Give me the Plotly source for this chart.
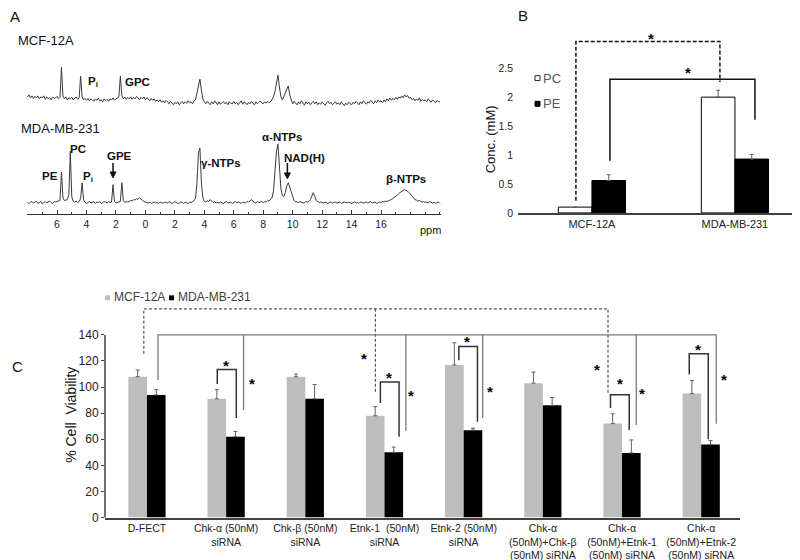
import numpy as np
import plotly.graph_objects as go

W, H = 800, 560
FONT = "Liberation Sans, Arial, sans-serif"

# ---------------- Panel A : 31P NMR spectra ----------------
ppm_start, ppm_step = 8.0, 0.1
mda_intensity = (
    [0, -1, 0.5, 1, -0.5, 0, 1.5, -1, 0, 1]
    + [-1.5, 0, 1, -0.5, 0.5, 1.5, 0, -1, 1, 0.5]
    + [1, 1.5, 2, 31, 5, 2, 2.5, 3, 8, 52]
    + [6, 1, 0.5, 1.5, 0, 1, 4, 20, 3, 0]
    + [-1, 0.5, 1, -0.5, 0, 1, -1, 0.5, 0, 1]
    + [-1, 0, 1, 0.5, -0.5, 1, 0, 0.5, 18, 1]
    + [-0.5, 0, 0.5, 1, 20, 2, 0, 1, 0.5, 1.5]
    + [2, 1.5, 3, 2.5, 4, 3, 5, 3.5, 2, 1]
    + [0.5, 0, -0.5, 0.5, -1, 0, 0.5, -0.5, 0, -1]
    + [0.5, 0, -1, 0.5, 0, -0.5, 1, 0, -1, 0]
    + [1, 0, -1, -0.5, 0.5, 0, -1, 0.5, 0, -1]
    + [0.5, 0, 1, 2, 4, 20, 50, 55, 20, 5]
    + [1, 0.5, 2, 1, 3, 1.5, 0, 1, -0.5, 0]
    + [-0.5, 0.5, 0, -1, 0.5, 1, -0.5, 0, 0.5, -1]
    + [0, 1, -0.5, 0.5, 0, -1, 0.5, 0, -0.5, 1]
    + [0.5, 1.5, 3, 1, 0, -0.5, 1, 0, 0.5, 1]
    + [0, 1, 0.5, 2, 1.5, 3, 5, 12, 30, 52]
    + [59, 40, 14, 7, 6, 10, 17, 20, 14, 11]
    + [6, 2, 1, 0.5, 0, 1, 0.5, -0.5, 0, 1]
    + [0.5, 1, 3, 7, 10, 6, 2, 1, 0, 0.5]
    + [0, -0.5, 0.5, 0, -1, 0, 0.5, -0.5, 0, 0.5]
    + [-0.5, 0, 0.5, -1, 0, 0.5, 0, -0.5, 0.5, 0]
    + [-1, 0, 0.5, -0.5, 0, -1, 0.5, 0, -0.5, 0]
    + [0.5, -0.5, 0, 1, -0.5, 0, 0.5, -1, 0, 0.5]
    + [0, 1, 0.5, 1.5, 1, 2, 2.5, 3, 4, 5]
    + [6, 7.5, 9, 10.5, 12, 12.5, 13, 12.5, 11.5, 10]
    + [8, 6, 4.5, 3, 2.5, 1.5, 2, 1, 0.5, 1]
    + [0, 0.5, -0.5, 1, 0, -0.5, 0.5, -1, 0, 0.5]
    + [-1]
)
mcf_intensity = (
    [2, 4, 1, 3, 0.5, 2.5, 1, 3, 0, 2]
    + [1, 3, -0.5, 2, 0, 1.5, -1, 2, 0.5, 1]
    + [2.5, 0, 1.5, 32, 3, 0, 2, -1, 1, 0]
    + [1.5, -1, 0.5, 2, -0.5, 1, 23, 2, -1, 0.5]
    + [-1.5, 0.5, -2, 0, -1, -2.5, 0, -1.5, 0.5, -2]
    + [-1, -3, 0, -2, -0.5, -2.5, 0, -1, 1, -1.5]
    + [0, 1, 2, 23, 3, 0, 2, -0.5, 1.5, 0]
    + [2, -0.5, 1.5, 0, 2.5, 1, -1, 1.5, 0, 2]
    + [-1, 1, 0, -2, 0.5, -1.5, 0, -2.5, -1, -3]
    + [-1, -3.5, -2, -4, -1.5, -3, -5, -2.5, -4, -6]
    + [-3.5, -5, -3, -6, -4, -2.5, -5, -3, -4.5, -2]
    + [-4, -3, -5, -2, -1, 6, 16, 20, 9, 0]
    + [-3, -5, -2.5, -4, -6, -3, -5, -2, -4.5, -6]
    + [-3, -5.5, -4, -2.5, -5, -3.5, -6, -3, -4.5, -5]
    + [-2.5, -5, -3.5, -6, -4, -2, -5.5, -3, -4, -6]
    + [-3.5, -5, -2.5, -4.5, -6, -3, -5, -3.5, -2, -4]
    + [-5, -3, -4.5, -2.5, -4, -3, -1, 2, 8, 17]
    + [24, 12, 2, -1, 2, 6, 10, 13, 4, -2]
    + [-5, -2.5, -4, -6, -3, -5, -2, -4.5, -6.5, -3]
    + [-5, -3.5, -6, -4, -2.5, -5, -3, -6, -4, -5.5]
    + [-3, -5, -6.5, -4, -2.5, -5, -3.5, -6, -4.5, -3]
    + [-5.5, -4, -6, -3, -5, -7, -4.5, -6, -3.5, -5]
    + [-6, -3.5, -5, -2.5, -4.5, -6, -3, -5, -2, -4]
    + [-5.5, -3, -4, -1.5, -3.5, -5, -2, -4, -1, -3]
    + [-2, -4, -1, -3, 0, -2, 1, -1.5, 0.5, -1]
    + [1.5, -0.5, 2, 0.5, 3, 1, 4, 2, 3.5, 0.5]
    + [1.5, -1, 0.5, -2, 0, -1.5, 1, -2.5, -0.5, -2]
    + [-1, -3, 0, -2, -3.5, -1, -2.5, -4, -1.5, -3]
    + [-3]
)
ppm_tickvals = [6, 4, 2, 0, -2, -4, -6, -8, -10, -12, -14, -16]
ppm_ticktext = ["6", "4", "2", "0", "2", "4", "6", "8", "10", "12", "14", "16"]
# arrows marking GPE and NAD(H) peaks: (ppm, head intensity, tail intensity)
a_arrows = [(2.2, 25, 40), (-9.64, 24, 40)]

# ---------------- Panel B : concentrations ----------------
b_cells = ["MCF-12A", "MDA-MB-231"]
b_pc = [0.10, 2.00]
b_pc_err = [0.0, 0.12]
b_pe = [0.56, 0.93]
b_pe_err = [0.10, 0.08]
b_yticks = [0, 0.5, 1, 1.5, 2, 2.5]
b_yticktext = ["0", "0.5", "1", "1.5", "2", "2.5"]

# ---------------- Panel C : viability ----------------
c_groups = [
    "D-FECT",
    "Chk-α (50nM)<br>siRNA",
    "Chk-β (50nM)<br>siRNA",
    "Etnk-1\u00a0 (50nM)<br>siRNA",
    "Etnk-2 (50nM)<br>siRNA",
    "Chk-α<br>(50nM)+Chk-β<br>(50nM) siRNA",
    "Chk-α<br>(50nM)+Etnk-1<br>(50nM) siRNA",
    "Chk-α<br>(50nM)+Etnk-2<br>(50nM) siRNA",
]
c_mcf = [108, 91, 108, 78, 117, 103, 72, 95]
c_mcf_err = [5, 7, 2, 7, 17, 8.5, 7.5, 10]
c_mda = [94, 62, 91, 50, 67, 86, 49.5, 56]
c_mda_err = [4, 4, 11, 4, 1.5, 6, 10, 3]
c_yticks = [0, 20, 40, 60, 80, 100, 120, 140]

# significance brackets (data coordinates)
b_brackets = [
    dict(pts=[(-0.112, 0.21), (-0.112, 2.96), (0.895, 2.96), (0.895, 2.26)], dash="4px,2px", star=(0.41, 3.06)),
    dict(pts=[(0.126, 0.90), (0.126, 2.31), (1.14, 2.31), (1.14, 1.61)], dash="solid", star=(0.67, 2.47)),
]
c_dashed = [
    [(-0.04, 125.6), (-0.04, 160), (5.823, 160), (5.823, 95.4)],
    [(2.885, 160), (2.885, 94.8)],
]
c_solid = [
    [(0.14, 105.4), (0.14, 140), (7.19, 140), (7.19, 71.9)],
    [(1.22, 140), (1.22, 82.3)],
    [(3.27, 140), (3.27, 66.4)],
    [(4.24, 140), (4.24, 76.4)],
    [(6.18, 140), (6.18, 70.9)],
]
c_small = [
    [(0.888, 102.4), (0.888, 113.5), (1.128, 113.5), (1.128, 76.4)],
    [(2.948, 87.8), (2.948, 103.9), (3.184, 103.9), (3.184, 62)],
    [(3.939, 120.6), (3.939, 131.1), (4.174, 131.1), (4.174, 73.4)],
    [(5.854, 84), (5.854, 94.1), (6.091, 94.1), (6.091, 67.1)],
    [(6.849, 109.7), (6.849, 125.6), (7.089, 125.6), (7.089, 60)],
]
c_stars = [(1.002, 118.6), (3.058, 110), (4.047, 137), (5.973, 105), (6.962, 131.4),
           (1.33, 105.4), (2.738, 123.9), (3.332, 96.1), (4.33, 99.1),
           (5.69, 115.6), (6.255, 97.1), (7.287, 108)]


def px(x):
    return x / W


def py(y):
    return 1 - y / H


def path_of(pts):
    return "M " + " L ".join(f"{x},{y}" for x, y in pts)


ppm = np.round(ppm_start - ppm_step * np.arange(len(mda_intensity)), 2)
ppm2 = np.round(ppm_start - ppm_step * np.arange(len(mcf_intensity)), 2)

fig = go.Figure()
fig.add_trace(go.Scatter(x=ppm2, y=mcf_intensity, mode="lines", xaxis="x", yaxis="y2",
                         line=dict(color="#3a3a3a", width=1), showlegend=False, hoverinfo="skip"))
fig.add_trace(go.Scatter(x=ppm, y=mda_intensity, mode="lines", xaxis="x", yaxis="y",
                         line=dict(color="#3a3a3a", width=1), showlegend=False, hoverinfo="skip"))

ebar = dict(type="data", symmetric=False, color="#606060", thickness=1, width=2)
fig.add_trace(go.Bar(x=[0, 1], y=b_pc, xaxis="x2", yaxis="y3", marker=dict(color="white", line=dict(color="black", width=1)),
                     error_y=dict(ebar, array=b_pc_err, arrayminus=[0] * 2), showlegend=False))
fig.add_trace(go.Bar(x=[0, 1], y=b_pe, xaxis="x2", yaxis="y3", marker=dict(color="black", line=dict(color="black", width=1)),
                     error_y=dict(ebar, array=b_pe_err, arrayminus=[0] * 2), showlegend=False))

cx = list(range(len(c_groups)))
fig.add_trace(go.Bar(x=cx, y=c_mcf, xaxis="x3", yaxis="y4", marker=dict(color="#bdbdbd", line=dict(width=0)),
                     error_y=dict(ebar, array=c_mcf_err, arrayminus=[0] * 8), showlegend=False))
fig.add_trace(go.Bar(x=cx, y=c_mda, xaxis="x3", yaxis="y4", marker=dict(color="black", line=dict(width=0)),
                     error_y=dict(ebar, array=c_mda_err, arrayminus=[0] * 8), showlegend=False))

shapes = []
# arrows in panel A
for ax_, head, tail in a_arrows:
    shapes.append(dict(type="line", xref="x", yref="y", x0=ax_, x1=ax_, y0=tail, y1=head + 4,
                       line=dict(color="#111", width=1.5)))
    shapes.append(dict(type="path", xref="x", yref="y",
                       path=f"M {ax_ - 0.2},{head + 6} L {ax_ + 0.2},{head + 6} L {ax_},{head} Z",
                       fillcolor="#111", line=dict(color="#111", width=1)))
for br in b_brackets:
    shapes.append(dict(type="path", path=path_of(br["pts"]), xref="x2", yref="y3",
                       line=dict(color="#111", width=1.5, dash=br["dash"])))
for pts in c_dashed:
    shapes.append(dict(type="path", path=path_of(pts), xref="x3", yref="y4",
                       line=dict(color="#555", width=1.2, dash="3px,2px")))
for pts in c_solid:
    shapes.append(dict(type="path", path=path_of(pts), xref="x3", yref="y4",
                       line=dict(color="#7a7a7a", width=1.3)))
for pts in c_small:
    shapes.append(dict(type="path", path=path_of(pts), xref="x3", yref="y4",
                       line=dict(color="#333", width=1.5)))

# C y-axis line (only up to 140)
c_dom = [py(516), py(298)]
c_rng = [0, 165]
def c_to_paper(v):
    return c_dom[0] + (v - c_rng[0]) / (c_rng[1] - c_rng[0]) * (c_dom[1] - c_dom[0])
shapes.append(dict(type="line", xref="paper", yref="paper", x0=px(97), x1=px(97),
                   y0=c_to_paper(0), y1=c_to_paper(140), line=dict(color="#404040", width=1.5)))

# legends (B and C)
shapes.append(dict(type="rect", xref="paper", yref="paper", x0=px(527), x1=px(532), y0=py(73.5), y1=py(68.5),
                   fillcolor="white", line=dict(color="#222", width=1)))
shapes.append(dict(type="rect", xref="paper", yref="paper", x0=px(527), x1=px(532), y0=py(99.5), y1=py(94.5),
                   fillcolor="black", line=dict(color="black", width=1)))
shapes.append(dict(type="rect", xref="paper", yref="paper", x0=px(97), x1=px(102), y0=py(296), y1=py(291),
                   fillcolor="#bdbdbd", line=dict(width=0)))
shapes.append(dict(type="rect", xref="paper", yref="paper", x0=px(161), x1=px(166), y0=py(296), y1=py(291),
                   fillcolor="black", line=dict(width=0)))

ann = []
def pa(text, x, y, size=12, color="#111", xanchor="center", angle=0, **kw):
    ann.append(dict(text=text, x=px(x), y=py(y), xref="paper", yref="paper", showarrow=False,
                    xanchor=xanchor, yanchor="middle", textangle=angle,
                    font=dict(family=FONT, size=size, color=color), **kw))

pa("A", 0, 9, size=15, xanchor="left")
pa("B", 515, 8, size=15)
pa("C", 9, 363, size=15)
pa("MCF-12A", 8, 33, size=13, xanchor="left")
pa("MDA-MB-231", 11, 122, size=13, xanchor="left")
pa("ppm", 422, 225, size=11)
pa("Conc. (mM)", 482, 133, size=13, angle=-90)
pa("% Cell\u00a0 Viability", 63, 412, size=14, angle=-90)
pa("PC", 532.5, 71, size=13, color="#595959", xanchor="left")
pa("PE", 532.5, 97, size=13, color="#595959", xanchor="left")
pa("MCF-12A", 103.5, 293, size=12, color="#404040", xanchor="left")
pa("MDA-MB-231", 167.5, 293, size=12, color="#404040", xanchor="left")

# spectrum labels (data coords)
def da(text, x, y, yref="y", size=11.5):
    ann.append(dict(text=text, x=x, y=y, xref="x", yref=yref, showarrow=False,
                    xanchor="center", yanchor="middle", font=dict(family=FONT, size=size, color="#111")))

da("<b>P<sub>i</sub></b>", 3.56, 17, "y2")
da("<b>GPC</b>", 0.51, 17, "y2")
da("<b>PE</b>", 6.48, 27)
da("<b>PC</b>", 4.57, 54)
da("<b>P<sub>i</sub></b>", 3.93, 26)
da("<b>GPE</b>", 1.79, 47)
da("<b>γ-NTPs</b>", -5.13, 40)
da("<b>α-NTPs</b>", -9.3, 66)
da("<b>NAD(H)</b>", -10.79, 45)
da("<b>β-NTPs</b>", -17.66, 24)

# stars
starfont = dict(family=FONT, size=15, color="black")
for br in b_brackets:
    sx, sy = br["star"]
    ann.append(dict(text="<b>*</b>", x=sx, y=sy, xref="x2", yref="y3", showarrow=False, yshift=-3, font=starfont))
for sx, sy in c_stars:
    ann.append(dict(text="<b>*</b>", x=sx, y=sy, xref="x3", yref="y4", showarrow=False, yshift=-3, font=starfont))

tickfont = dict(family=FONT, size=11, color="#222")
fig.update_layout(
    width=W, height=H, margin=dict(l=0, r=0, t=0, b=0),
    paper_bgcolor="white", plot_bgcolor="white",
    barmode="group", bargap=0.53, bargroupgap=0,
    font=dict(family=FONT),
    shapes=shapes, annotations=ann,
    xaxis=dict(domain=[px(19), px(433)], range=[8.04, -20.07], anchor="y",
               tickmode="array", tickvals=ppm_tickvals, ticktext=ppm_ticktext,
               ticks="inside", ticklen=4, tickcolor="#333", tickwidth=1,
               minor=dict(tickmode="linear", tick0=0, dtick=1, ticks="inside", ticklen=2, tickcolor="#333"),
               showline=True, linecolor="#333", linewidth=1, showgrid=False, zeroline=False,
               tickfont=dict(family=FONT, size=10.5, color="#222")),
    yaxis=dict(domain=[py(209), py(130)], range=[-12, 67], visible=False, anchor="x"),
    yaxis2=dict(domain=[py(100), py(50)], range=[-8, 42], visible=False, anchor="x"),
    xaxis2=dict(domain=[px(510), px(796)], range=[-0.517, 1.483], anchor="y3",
                tickmode="array", tickvals=[0, 1], ticktext=b_cells, ticks="",
                showline=True, linecolor="#404040", linewidth=1.5, showgrid=False, zeroline=False,
                tickfont=tickfont),
    yaxis3=dict(domain=[py(207.5), py(25.8)], range=[0, 3.1], anchor="x2",
                tickmode="array", tickvals=b_yticks, ticktext=b_yticktext, ticks="",
                showline=False, showgrid=False, zeroline=False, ticklabelstandoff=4,
                tickfont=dict(family=FONT, size=10.5, color="#222")),
    xaxis3=dict(domain=[px(97), px(732)], range=[-0.53, 7.49], anchor="y4",
                tickmode="array", tickvals=cx, ticktext=c_groups, ticks="",
                showline=True, linecolor="#404040", linewidth=1.5, showgrid=False, zeroline=False,
                tickfont=dict(family=FONT, size=10.5, color="#222")),
    yaxis4=dict(domain=c_dom, range=c_rng, anchor="x3",
                tickmode="array", tickvals=c_yticks, ticks="outside", ticklen=3, tickcolor="#404040",
                showline=False, showgrid=False, zeroline=False,
                tickfont=dict(family=FONT, size=12, color="#222")),
)

fig.write_html("out.html")
